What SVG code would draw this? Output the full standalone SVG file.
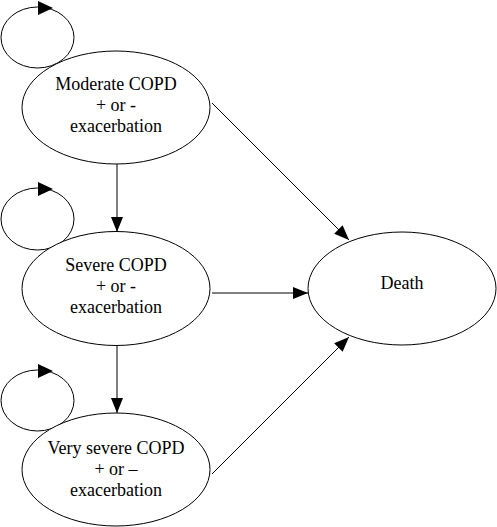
<svg xmlns="http://www.w3.org/2000/svg" width="497" height="527" viewBox="0 0 497 527">
<style>
.node ellipse{fill:#fff;stroke:#000;stroke-width:1}
.loop{fill:none;stroke:#000;stroke-width:1}
.head{fill:#000;stroke:none}
text{font-family:"Liberation Serif","Times New Roman",serif;font-size:18px;fill:#000;text-anchor:middle}
#connectors line{stroke:#000;stroke-width:1}
</style>
<defs>
<marker id="arr" markerUnits="userSpaceOnUse" markerWidth="15" markerHeight="12" refX="15" refY="6" orient="auto">
<path d="M0,0 L15,6 L0,12 z" fill="#000"/>
</marker>
</defs>
<g id="loops">
<ellipse class="loop" cx="37.5" cy="37.5" rx="36.5" ry="30.5"/>
<polygon class="head" points="38,1 53,8 38,15"/>
<ellipse class="loop" cx="37.5" cy="219" rx="36.5" ry="31"/>
<polygon class="head" points="38,182 53,189 38,196"/>
<ellipse class="loop" cx="37.5" cy="400.5" rx="36.5" ry="30.5"/>
<polygon class="head" points="38,364 53,371 38,378"/>
</g>
<g id="connectors">
<line x1="117" y1="164" x2="117" y2="232" marker-end="url(#arr)"/>
<line x1="117" y1="345" x2="117" y2="413" marker-end="url(#arr)"/>
<line x1="212" y1="103" x2="349" y2="240" marker-end="url(#arr)"/>
<line x1="212" y1="293" x2="308" y2="293" marker-end="url(#arr)"/>
<line x1="212" y1="474" x2="349" y2="337" marker-end="url(#arr)"/>
</g>
<g id="moderate" class="node">
<ellipse cx="116" cy="107.5" rx="94" ry="56.5"/>
<text x="116" y="90">Moderate COPD</text>
<text x="116" y="111">+ or -</text>
<text x="116" y="132">exacerbation</text>
</g>
<g id="severe" class="node">
<ellipse cx="116" cy="288.5" rx="94" ry="57"/>
<text x="116" y="271">Severe COPD</text>
<text x="116" y="292">+ or -</text>
<text x="116" y="313">exacerbation</text>
</g>
<g id="verysevere" class="node">
<ellipse cx="116" cy="469.5" rx="94" ry="56.5"/>
<text x="116" y="454">Very severe COPD</text>
<text x="116" y="475">+ or –</text>
<text x="116" y="496">exacerbation</text>
</g>
<g id="death" class="node">
<ellipse cx="402" cy="288.5" rx="94" ry="56.5"/>
<text x="402" y="289">Death</text>
</g>
</svg>
